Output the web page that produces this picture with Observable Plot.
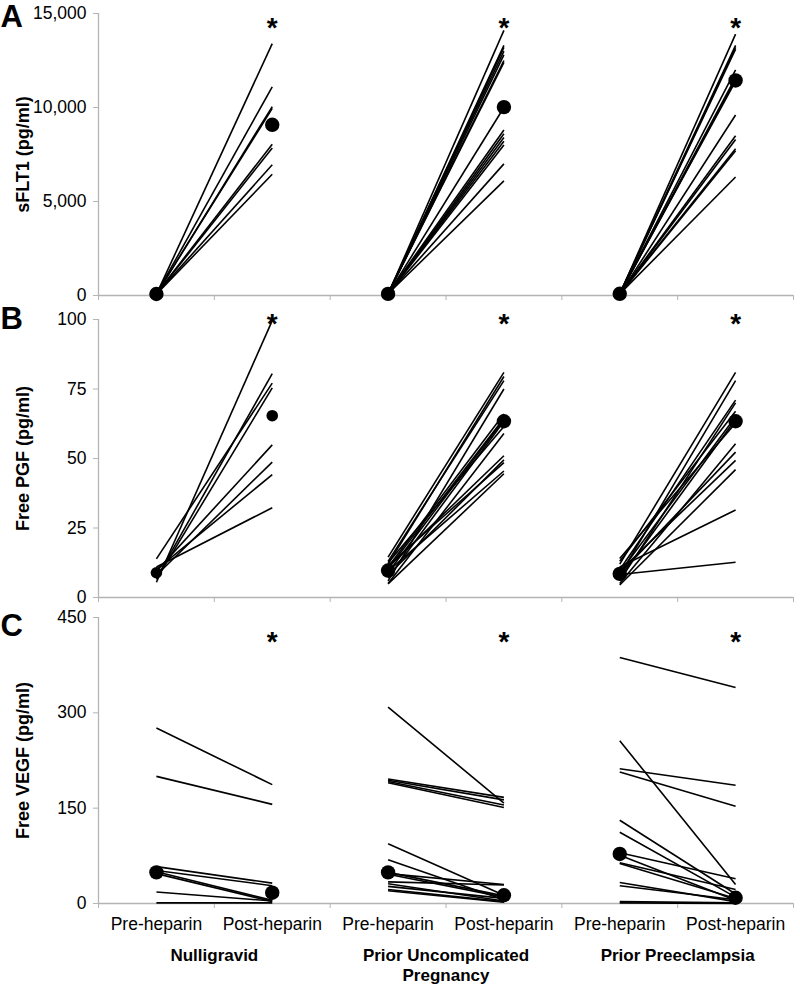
<!DOCTYPE html>
<html>
<head>
<meta charset="utf-8">
<script src="https://cdn.jsdelivr.net/npm/d3@7"></script>
<script src="https://cdn.jsdelivr.net/npm/@observablehq/plot@0.6"></script>
<style>
  body { margin: 0; background: #fff; }
  #chart { width: 800px; }
  #chart svg { display: block; }
</style>
</head>
<body>
<div id="chart"></div>
<script>
// ---------- categories ----------
const groups = ["Nulligravid", "Prior Uncomplicated\nPregnancy", "Prior Preeclampsia"];
const timepoints = ["Pre-heparin", "Post-heparin"];
const panelLetters = ["A", "B", "C"];
const yLabels = ["sFLT1 (pg/ml)", "Free PGF (pg/ml)", "Free VEGF (pg/ml)"];
const sigMark = "*";

// ---------- Panel A: sFLT1 (pg/ml), one row per subject ----------
const sflt1Pre = [
  [60, 80, 70, 90, 100, 75, 85, 65],
  [70, 90, 80, 100, 60, 85, 95, 75, 110, 65, 80, 90, 70, 85, 95],
  [80, 95, 70, 100, 85, 90, 75, 110, 65, 95, 80, 90, 70, 85]
];
const sflt1Post = [
  [13400, 11100, 10050, 9950, 8050, 7850, 6950, 6450],
  [14100, 13300, 13200, 13000, 12800, 12500, 12400, 10000, 8800, 8600, 8400, 8200, 8000, 7000, 6100],
  [13900, 13300, 13200, 13100, 12000, 11600, 11500, 11400, 9600, 8500, 8300, 7800, 7700, 6300]
];
const sflt1MedPre = [80, 85, 90];
const sflt1MedPost = [9080, 10020, 11440];
const sflt1Ticks = [0, 5000, 10000, 15000];

// ---------- Panel B: Free PGF (pg/ml) ----------
const pgfPre = [
  [5.5, 7, 13.9, 6.5, 9.5, 8, 10, 11],
  [14.5, 12, 13, 6, 11, 10.3, 9, 7, 12.5, 5, 10.8, 8, 11.5, 9.5, 4.9],
  [12, 8, 10, 6, 13, 9, 7, 14, 5, 8.5, 9.5, 4.5, 11, 8.3]
];
const pgfPost = [
  [99.6, 80.5, 77.1, 75.4, 54.9, 48.7, 44.2, 32.3],
  [81, 79.5, 78, 75, 66, 64.5, 64, 63.4, 61.5, 59, 51, 49.5, 48.5, 45.5, 44.5],
  [81, 78, 71, 70, 67, 65, 64, 62.8, 55.3, 52.3, 49.3, 46, 31.5, 12.7]
];
const pgfMedPre = [8.9, 9.7, 8.5];
const pgfMedPost = [65.4, 63.4, 63.4];
const pgfTicks = [0, 25, 50, 75, 100];

// ---------- Panel C: Free VEGF (pg/ml) ----------
const vegfPre = [
  [276, 200, 58, 52, 50, 47, 18, 1],
  [309, 196, 194, 192, 190, 94, 69, 47, 49, 46, 34, 31, 27, 22, 20],
  [387, 256, 212, 207, 131, 112, 80, 76, 64, 63, 33, 28, 3, 1]
];
const vegfPost = [
  [187, 156, 32, 28, 5, 3, 4, 1],
  [158, 167, 163, 155, 151, 13, 6, 30, 12, 10, 29, 4, 8, 3, 2],
  [340, 30, 186, 153, 15, 10, 39, 5, 22, 8, 3, 6, 1, 0]
];
const vegfMedPre = [49, 49, 78];
const vegfMedPost = [17, 13, 9];
const vegfTicks = [0, 150, 300, 450];

// ---------- helpers ----------
const nSlots = groups.length * timepoints.length;
const slot = (gi, ti) => gi * timepoints.length + ti + 0.5;
const FONT = "'Liberation Sans', Arial, Helvetica, sans-serif";
const AXIS_GRAY = "#b4b4b4";

function panel(cfg) {
  const subjects = groups.flatMap((g, gi) =>
    cfg.pre[gi].map((v, i) => ({gi, pre: v, post: cfg.post[gi][i]})));
  const medians = groups.flatMap((g, gi) => [
    {gi, ti: 0, v: cfg.medPre[gi]},
    {gi, ti: 1, v: cfg.medPost[gi]}
  ]);
  const marks = [
    Plot.ruleY([0], {stroke: AXIS_GRAY, strokeWidth: 1.3}),
    Plot.ruleX([0], {stroke: AXIS_GRAY, strokeWidth: 1.3}),
    Plot.axisY({ticks: cfg.ticks, tickSize: 5, tickPadding: 7, stroke: AXIS_GRAY,
      fill: "black", tickFormat: cfg.fmt, fontSize: 17.5}),
    Plot.axisX({ticks: d3.range(0, nSlots + 1), tickSize: 5, stroke: AXIS_GRAY, fill: "none"}),
    Plot.link(subjects, {
      x1: d => slot(d.gi, 0), y1: "pre",
      x2: d => slot(d.gi, 1), y2: "post",
      stroke: "black", strokeWidth: 1.6
    }),
    Plot.dot(medians, {
      filter: d => !(cfg.smallDotGroup === d.gi),
      x: d => slot(d.gi, d.ti), y: "v", r: 7.2, fill: "black"
    }),
    Plot.dot(medians, {
      filter: d => cfg.smallDotGroup === d.gi,
      x: d => slot(d.gi, d.ti), y: "v", r: 5.8, fill: "black"
    }),
    Plot.text(groups.map((g, gi) => ({gi})), {
      x: d => slot(d.gi, 1), frameAnchor: "top", text: () => sigMark,
      lineAnchor: "top", dy: cfg.starDy, fontSize: 28, fontWeight: "bold"
    }),
    Plot.text([cfg.letter], {
      text: d => d, frameAnchor: "top-left", dx: -98, dy: cfg.letterDy,
      textAnchor: "start", lineAnchor: "top", fontSize: 31, fontWeight: "bold"
    }),
    Plot.text([cfg.label], {
      text: d => d, frameAnchor: "left", dx: -75, rotate: -90,
      textAnchor: "middle", lineAnchor: "middle",
      fontSize: 18, fontWeight: "bold"
    })
  ];
  if (cfg.bottom) {
    marks.push(
      Plot.axisX({ticks: d3.range(0, nSlots).map(i => i + 0.5), tickSize: 0, tickPadding: 14,
        tickFormat: d => timepoints[Math.floor(d) % timepoints.length], fontSize: 17.5, fill: "black"}),
      Plot.axisX({ticks: groups.map((g, gi) => gi * timepoints.length + 1), tickSize: 0, tickPadding: 43,
        tickFormat: d => groups[(d - 1) / timepoints.length], fontSize: 17, fontWeight: "bold",
        lineHeight: 1.2, fill: "black"})
    );
  }
  return Plot.plot({
    width: 800,
    height: cfg.height,
    marginLeft: 98,
    marginRight: 7,
    marginTop: cfg.marginTop,
    marginBottom: cfg.marginBottom,
    style: {fontFamily: FONT, fontSize: "17px", background: "white", color: "black", overflow: "visible"},
    x: {domain: [0, nSlots]},
    y: {domain: [cfg.ticks[0], cfg.ticks[cfg.ticks.length - 1]], nice: false},
    marks
  });
}

const chart = document.getElementById("chart");
chart.append(panel({
  pre: sflt1Pre, post: sflt1Post, medPre: sflt1MedPre, medPost: sflt1MedPost,
  ticks: sflt1Ticks, fmt: d3.format(","), label: yLabels[0], letter: panelLetters[0],
  height: 305, marginTop: 13, marginBottom: 10, starDy: 4, letterDy: -9
}));
chart.append(panel({
  pre: pgfPre, post: pgfPost, medPre: pgfMedPre, medPost: pgfMedPost,
  ticks: pgfTicks, fmt: d3.format(","), label: yLabels[1], letter: panelLetters[1],
  height: 302, marginTop: 14, marginBottom: 10, starDy: -6, letterDy: -13, smallDotGroup: 0
}));
chart.append(panel({
  pre: vegfPre, post: vegfPost, medPre: vegfMedPre, medPost: vegfMedPost,
  ticks: vegfTicks, fmt: d3.format(","), label: yLabels[2], letter: panelLetters[2],
  height: 380, marginTop: 10, marginBottom: 84, starDy: 14, letterDy: -4, bottom: true
}));
</script>
</body>
</html>
